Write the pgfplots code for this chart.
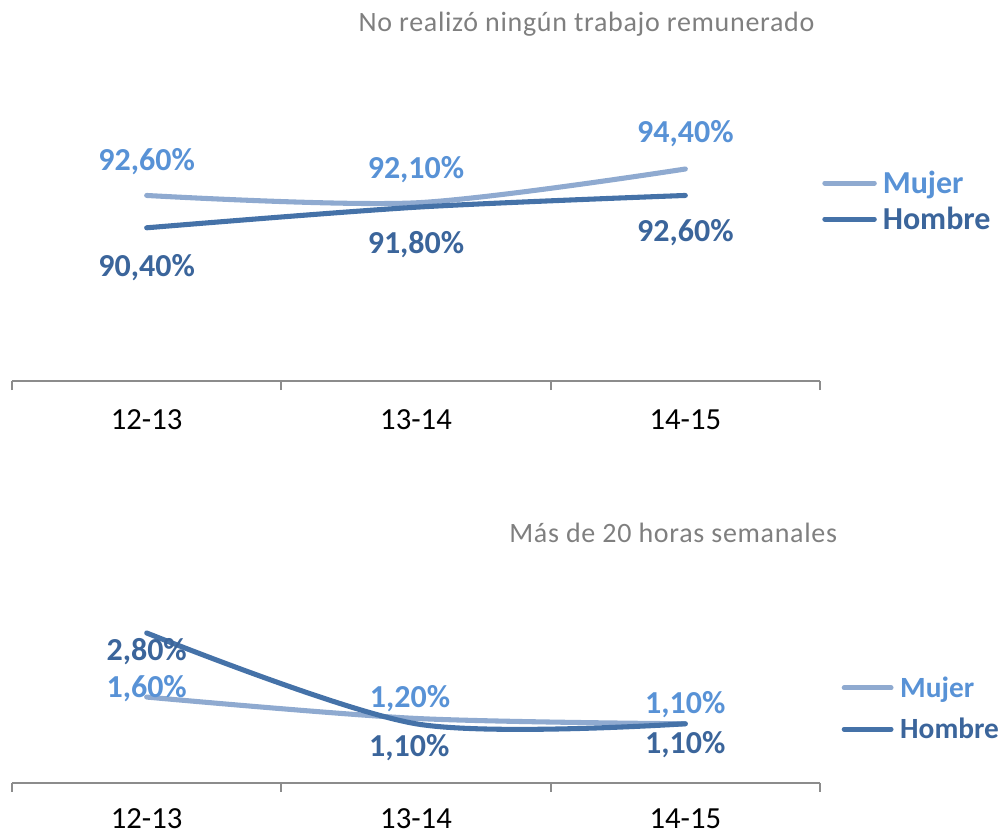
\documentclass[border=0pt]{standalone}
\usepackage{pgfplots}
\pgfplotsset{compat=1.18}
\usepackage{fontspec}
\setmainfont{Carlito}

\definecolor{mujline}{RGB}{143,170,208}
\definecolor{homline}{RGB}{69,114,168}
\definecolor{mujtxt}{RGB}{88,146,214}
\definecolor{homtxt}{RGB}{59,101,155}
\definecolor{axisgray}{RGB}{140,140,140}
\definecolor{titlegray}{RGB}{127,127,127}

\pgfplotsset{
  panel/.style={
    scale only axis,
    width=606pt,
    xmin=-0.5, xmax=2.5,
    axis x line=bottom,
    axis y line=none,
    ytick=\empty,
    x axis line style={-, draw=axisgray, line width=1.5pt},
    xtick={0,1,2},
    xticklabels={12-13,13-14,14-15},
    major tick length=0pt,
    minor xtick={-0.5,0.5,1.5,2.5},
    minor tick length=7pt,
    tick align=outside,
    minor tick style={draw=axisgray, line width=1.5pt},
    xticklabel style={font=\fontsize{23}{27}\selectfont, anchor=base, text=black},
    clip=false,
    legend cell align=left,
  },
  mujer/.style={mujline, line width=3.8pt, line cap=round, smooth, no marks},
  hombre/.style={homline, line width=3.8pt, line cap=round, smooth, no marks},
}
\tikzset{
  lblM/.style={font=\fontsize{24}{28}\selectfont\bfseries, text=mujtxt, anchor=base, inner sep=0pt},
  lblH/.style={font=\fontsize{24}{28}\selectfont\bfseries, text=homtxt, anchor=base, inner sep=0pt},
  ttl/.style={anchor=base east, inner sep=0pt, text=titlegray,
    font=\fontsize{21}{25}\selectfont\addfontfeature{LetterSpace=2.5}},
}

\begin{document}
\begin{tikzpicture}
\path[use as bounding box] (0,0) rectangle (753.75pt,-627pt);

% titulos
\node[ttl] at (611pt,-23.75pt) {No realizó ningún trabajo remunerado};
\node[ttl] at (628pt,-406.75pt) {Más de 20 horas semanales};

% panel superior
\begin{axis}[
    panel,
    at={(9pt,-285.5pt)}, anchor=south west,
    height=220.5pt,
    ymin=80, ymax=100,
    xticklabel style={yshift=-36.5pt},
    legend image code/.code={\draw[line width=3.8pt, line cap=round] (1.9pt,0pt) -- (39pt,0pt);},
    legend style={
        at={(1.0025,0.611)}, anchor=west,
        draw=none, fill=none, inner sep=0pt,
        row sep=4.4pt, column sep=3.5pt,
        font=\fontsize{24}{28}\selectfont\bfseries,
        cells={anchor=west},
        nodes={inner sep=1pt, text height=18pt, text depth=2.6pt}
    }
]
    \addplot[mujer] coordinates {(0,92.6) (1,92.1) (2,94.4)};
    \addlegendentry{\textcolor{mujtxt}{Mujer}}
    \addplot[hombre] coordinates {(0,90.4) (1,91.8) (2,92.6)};
    \addlegendentry{\textcolor{homtxt}{Hombre}}

    \node[lblM, yshift=18.5pt] at (axis cs:0,92.6) {92,60\%};
    \node[lblM, yshift=18.4pt] at (axis cs:1,92.1) {92,10\%};
    \node[lblM, yshift=19.5pt] at (axis cs:2,94.4) {94,40\%};
    \node[lblH, yshift=-36.7pt] at (axis cs:0,90.4) {90,40\%};
    \node[lblH, yshift=-35pt] at (axis cs:1,91.8) {91,80\%};
    \node[lblH, yshift=-34.5pt] at (axis cs:2,92.6) {92,60\%};
\end{axis}

% panel inferior
\begin{axis}[
    panel,
    at={(9pt,-586.9pt)}, anchor=south west,
    height=140.25pt,
    ymin=0, ymax=3.5,
    xticklabel style={yshift=-34.5pt},
    legend image code/.code={\draw[line width=3.8pt, line cap=round] (1.9pt,0pt) -- (37pt,0pt);},
    legend style={
        at={(1.0265,0.396)}, anchor=west,
        draw=none, fill=none, inner sep=0pt,
        row sep=10pt, column sep=4pt,
        font=\fontsize{22}{26}\selectfont\bfseries,
        cells={anchor=west},
        nodes={inner sep=1pt, text height=16.5pt, text depth=2.4pt}
    }
]
    \addplot[mujer] coordinates {(0,1.6) (1,1.2) (2,1.1)};
    \addlegendentry{\textcolor{mujtxt}{Mujer}}
    \addplot[hombre] coordinates {(0,2.8) (1,1.1) (2,1.1)};
    \addlegendentry{\textcolor{homtxt}{Hombre}}

    \node[lblH, yshift=-20.5pt] at (axis cs:0,2.8) {2,80\%};
    \node[lblM, yshift=0pt] at (axis cs:0,1.6) {1,60\%};
    \node[lblM, xshift=-4.5pt, yshift=8pt] at (axis cs:1,1.2) {1,20\%};
    \node[lblH, xshift=-5pt, yshift=-24.3pt] at (axis cs:1,1.1) {1,10\%};
    \node[lblM, yshift=7.7pt] at (axis cs:2,1.1) {1,10\%};
    \node[lblH, yshift=-22.3pt] at (axis cs:2,1.1) {1,10\%};
\end{axis}
\end{tikzpicture}
\end{document}
